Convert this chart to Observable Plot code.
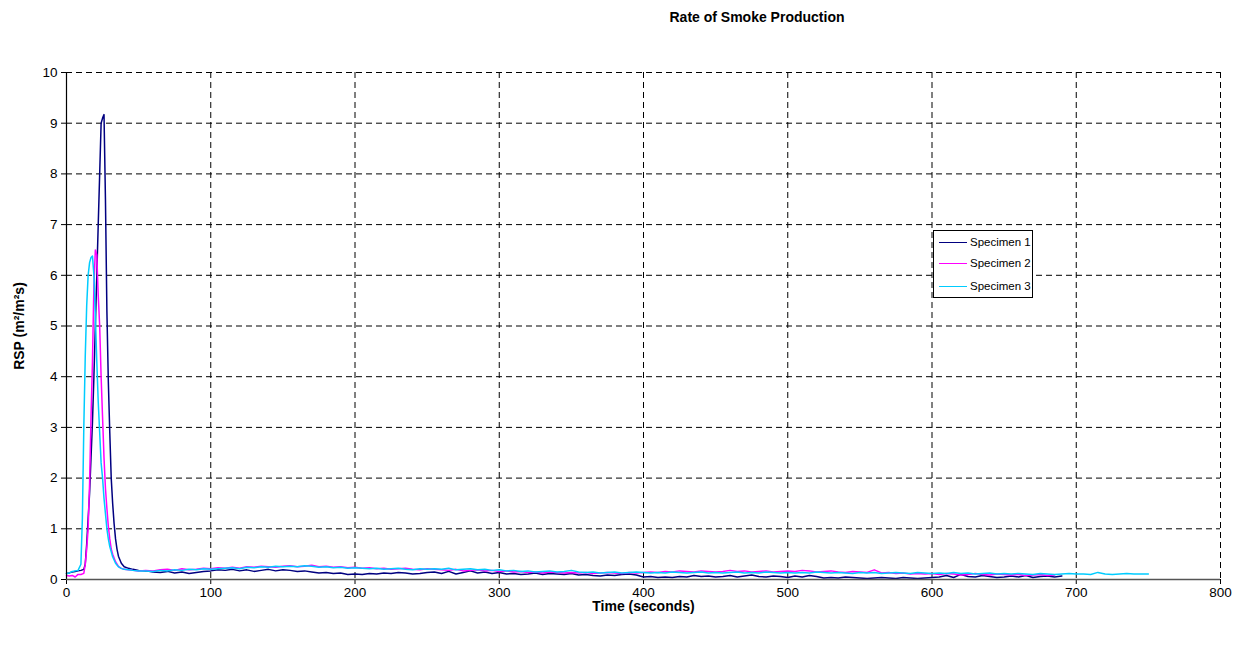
<!DOCTYPE html>
<html>
<head>
<meta charset="utf-8">
<script src="https://cdn.jsdelivr.net/npm/d3@7"></script>
<script src="https://cdn.jsdelivr.net/npm/@observablehq/plot@0.6"></script>
<style>
  body { margin: 0; background: #fff; font-family: "Liberation Sans", Arial, sans-serif; }
  #wrap { position: relative; width: 1243px; height: 646px; overflow: hidden; }
  #title { position: absolute; top: 9px; left: 757px; transform: translateX(-50%); font-weight: bold; font-size: 14px; white-space: nowrap; }
  #chart { position: absolute; top: 40px; left: 0; }
  #legend { position: absolute; left: 933px; top: 230px; width: 98px; height: 66px; border: 1px solid #000; background: #fff; font-size: 11.5px; }
  .row { position: absolute; left: 0; height: 14px; display: flex; align-items: center; white-space: nowrap; }
  .sw { width: 28px; height: 0; border-top: 1.5px solid; margin-left: 5px; margin-right: 3px; }
</style>
</head>
<body>
<div id="wrap">
  <div id="title">Rate of Smoke Production</div>
  <div id="chart"></div>
  <div id="legend"></div>
</div>
<script>
const seriesNames = ["Specimen 1", "Specimen 2", "Specimen 3"];
const seriesColors = ["#000080", "#FF00FF", "#00CCFF"];
const xTicks = [0, 100, 200, 300, 400, 500, 600, 700, 800];
const yTicks = [0, 1, 2, 3, 4, 5, 6, 7, 8, 9, 10];

// Peak phase (seconds / RSP)
const peakT1 = [0,2,4,6,8,10,12,13,14,15,16,17,18,19,20,21,22,23,24,25,26,27,28,29,30,31,32,33,34,35,36,38,40,43,46,50];
const peakV1 = [0.12,0.13,0.15,0.16,0.17,0.18,0.2,0.3,0.7,1.2,1.7,2.4,3.1,4.0,5.0,6.0,7.0,8.0,9.0,9.1,9.17,7.5,5.3,3.9,2.9,2.0,1.5,1.1,0.8,0.6,0.46,0.32,0.25,0.22,0.2,0.18];
const peakT2 = [0,2,4,6,8,10,12,13,14,15,16,17,18,19,20,21,22,23,24,25,26,27,28,29,30,31,32,34,36,38,40,43,46,50];
const peakV2 = [0.08,0.07,0.08,0.05,0.1,0.1,0.12,0.3,0.6,1.0,1.9,3.2,4.3,5.8,6.5,6.4,5.6,5.0,4.0,3.2,2.4,1.8,1.4,1.05,0.8,0.6,0.5,0.35,0.26,0.22,0.2,0.19,0.18,0.17];
const peakT3 = [0,2,4,6,8,10,11,12,13,14,15,16,17,18,19,20,21,22,23,24,25,26,27,28,29,30,32,34,36,38,40,43,46,50];
const peakV3 = [0.12,0.13,0.16,0.17,0.18,0.3,1.2,3.0,4.4,5.4,6.0,6.25,6.35,6.38,6.0,5.2,4.3,3.5,2.9,2.3,2.0,1.6,1.3,1.0,0.8,0.65,0.45,0.32,0.25,0.22,0.2,0.19,0.18,0.17];

// Tail phase times (seconds)
const tailT = [55,60,65,70,75,80,85,90,95,100,105,110,115,120,125,130,135,140,145,150,
  155,160,165,170,175,180,185,190,195,200,205,210,215,220,225,230,235,240,245,250,
  255,260,265,270,275,280,285,290,295,300,305,310,315,320,325,330,335,340,345,350,
  355,360,365,370,375,380,385,390,395,400,405,410,415,420,425,430,435,440,445,450,
  455,460,465,470,475,480,485,490,495,500,505,510,515,520,525,530,535,540,545,550,
  555,560,565,570,575,580,585,590,595,600,605,610,615,620,625,630,635,640,645,650,
  655,660,665,670,675,680,685,690,695,700,705,710,715,720,725,730,735,740,745,750];

const tailV1 = [0.17,0.15,0.14,0.16,0.13,0.15,0.12,0.14,0.16,0.17,
  0.19,0.18,0.2,0.17,0.19,0.16,0.18,0.2,0.17,0.19,
  0.18,0.16,0.17,0.15,0.13,0.14,0.12,0.13,0.1,0.11,
  0.1,0.12,0.11,0.13,0.12,0.14,0.13,0.11,0.12,0.14,
  0.15,0.12,0.16,0.11,0.14,0.17,0.13,0.15,0.12,0.14,
  0.11,0.12,0.1,0.11,0.13,0.1,0.12,0.11,0.1,0.12,
  0.09,0.1,0.08,0.07,0.09,0.08,0.1,0.11,0.09,0.05,
  0.06,0.04,0.05,0.04,0.06,0.05,0.08,0.06,0.07,0.05,
  0.06,0.08,0.05,0.07,0.09,0.06,0.05,0.07,0.06,0.04,
  0.07,0.05,0.08,0.06,0.03,0.04,0.03,0.05,0.04,0.03,
  0.02,0.03,0.04,0.03,0.02,0.04,0.03,0.02,0.03,0.04,
  0.05,0.08,0.04,0.1,0.06,0.05,0.08,0.06,0.04,0.05,
  0.07,0.05,0.08,0.04,0.06,0.07,0.05,0.07];

const tailV2 = [0.18,0.17,0.19,0.2,0.18,0.21,0.19,0.2,0.22,0.21,
  0.23,0.22,0.24,0.22,0.25,0.24,0.26,0.25,0.24,0.26,
  0.27,0.25,0.26,0.28,0.25,0.26,0.24,0.25,0.23,0.24,
  0.22,0.23,0.21,0.22,0.2,0.21,0.22,0.2,0.19,0.21,
  0.2,0.19,0.18,0.2,0.17,0.18,0.19,0.17,0.18,0.16,
  0.17,0.15,0.16,0.14,0.15,0.13,0.15,0.14,0.13,0.14,
  0.13,0.14,0.12,0.13,0.14,0.13,0.12,0.14,0.13,0.14,
  0.15,0.14,0.16,0.15,0.17,0.16,0.15,0.17,0.16,0.15,
  0.16,0.18,0.16,0.17,0.15,0.16,0.17,0.15,0.16,0.17,
  0.16,0.18,0.17,0.15,0.16,0.17,0.15,0.14,0.16,0.15,
  0.14,0.19,0.13,0.14,0.12,0.13,0.11,0.12,0.11,0.12,
  0.1,0.12,0.11,0.09,0.1,0.12,0.1,0.09,0.11,0.1,
  0.09,0.1,0.08,0.09,0.1,0.08,0.09];

const tailV3 = [0.17,0.16,0.18,0.17,0.19,0.18,0.2,0.19,0.21,0.2,
  0.21,0.22,0.23,0.21,0.24,0.23,0.25,0.24,0.26,0.25,
  0.26,0.25,0.27,0.26,0.24,0.25,0.23,0.24,0.22,0.23,
  0.22,0.21,0.22,0.2,0.21,0.22,0.2,0.19,0.21,0.2,
  0.21,0.2,0.22,0.19,0.2,0.21,0.19,0.2,0.18,0.19,
  0.17,0.18,0.16,0.17,0.15,0.16,0.17,0.15,0.16,0.18,
  0.15,0.14,0.15,0.13,0.14,0.15,0.13,0.14,0.15,0.14,
  0.13,0.14,0.13,0.15,0.14,0.13,0.14,0.15,0.13,0.14,
  0.13,0.14,0.15,0.13,0.14,0.13,0.15,0.14,0.13,0.14,
  0.13,0.14,0.13,0.15,0.14,0.13,0.14,0.13,0.12,0.14,
  0.13,0.14,0.12,0.13,0.14,0.13,0.12,0.14,0.13,0.12,
  0.13,0.12,0.14,0.12,0.13,0.11,0.12,0.13,0.11,0.12,
  0.11,0.12,0.11,0.1,0.12,0.11,0.1,0.11,0.12,0.11,
  0.11,0.1,0.14,0.11,0.1,0.11,0.12,0.11,0.11,0.11];

function build(name, pt, pv, tv) {
  const rows = pt.map((t, i) => ({ s: name, t, v: pv[i] }));
  tv.forEach((v, i) => rows.push({ s: name, t: tailT[i], v }));
  return rows;
}
const data = [
  ...build(seriesNames[0], peakT1, peakV1, tailV1),
  ...build(seriesNames[1], peakT2, peakV2, tailV2),
  ...build(seriesNames[2], peakT3, peakV3, tailV3)
];

const chart = Plot.plot({
  width: 1243,
  height: 606,
  marginTop: 32,
  marginBottom: 67,
  marginLeft: 66,
  marginRight: 23,
  style: { fontFamily: "'Liberation Sans', Arial, sans-serif", fontSize: "13.5px", color: "#000", background: "#fff" },
  x: { domain: [0, 800] },
  y: { domain: [0, 10] },
  color: { domain: seriesNames, range: seriesColors },
  marks: [
    Plot.gridX(xTicks.filter(d => d > 0), { stroke: "#000", strokeOpacity: 1, strokeDasharray: "6,4", strokeWidth: 1 }),
    Plot.gridY(yTicks.filter(d => d > 0), { stroke: "#000", strokeOpacity: 1, strokeDasharray: "6,4", strokeWidth: 1 }),
    Plot.axisX(xTicks, { tickSize: 5, tickPadding: 3, label: null, fontSize: 13.5, tickFormat: d => String(d) }),
    Plot.axisY(yTicks, { tickSize: 5, tickPadding: 4, label: null, fontSize: 13.5, tickFormat: d => String(d) }),
    Plot.line(data, { x: "t", y: "v", z: "s", stroke: "s", strokeWidth: 1.5 }),
    Plot.ruleX([0], { stroke: "#000", strokeWidth: 1.2 }),
    Plot.ruleY([0], { stroke: "#555", strokeWidth: 1.5 }),
    Plot.text(["Time (seconds)"], { frameAnchor: "bottom", lineAnchor: "middle", textAnchor: "middle", dy: 27, fontWeight: "bold", fontSize: 14 }),
    Plot.text(["RSP (m²/m²s)"], { frameAnchor: "left", lineAnchor: "middle", textAnchor: "middle", dx: -47, rotate: -90, fontWeight: "bold", fontSize: 14 })
  ]
});
document.getElementById("chart").appendChild(chart);

const legend = document.getElementById("legend");
const rowTops = [4, 25, 48];
seriesNames.forEach((n, i) => {
  const r = document.createElement("div");
  r.className = "row";
  r.style.top = rowTops[i] + "px";
  const sw = document.createElement("div");
  sw.className = "sw";
  sw.style.borderTopColor = seriesColors[i];
  const tx = document.createElement("span");
  tx.textContent = n;
  r.appendChild(sw);
  r.appendChild(tx);
  legend.appendChild(r);
});
</script>
</body>
</html>
